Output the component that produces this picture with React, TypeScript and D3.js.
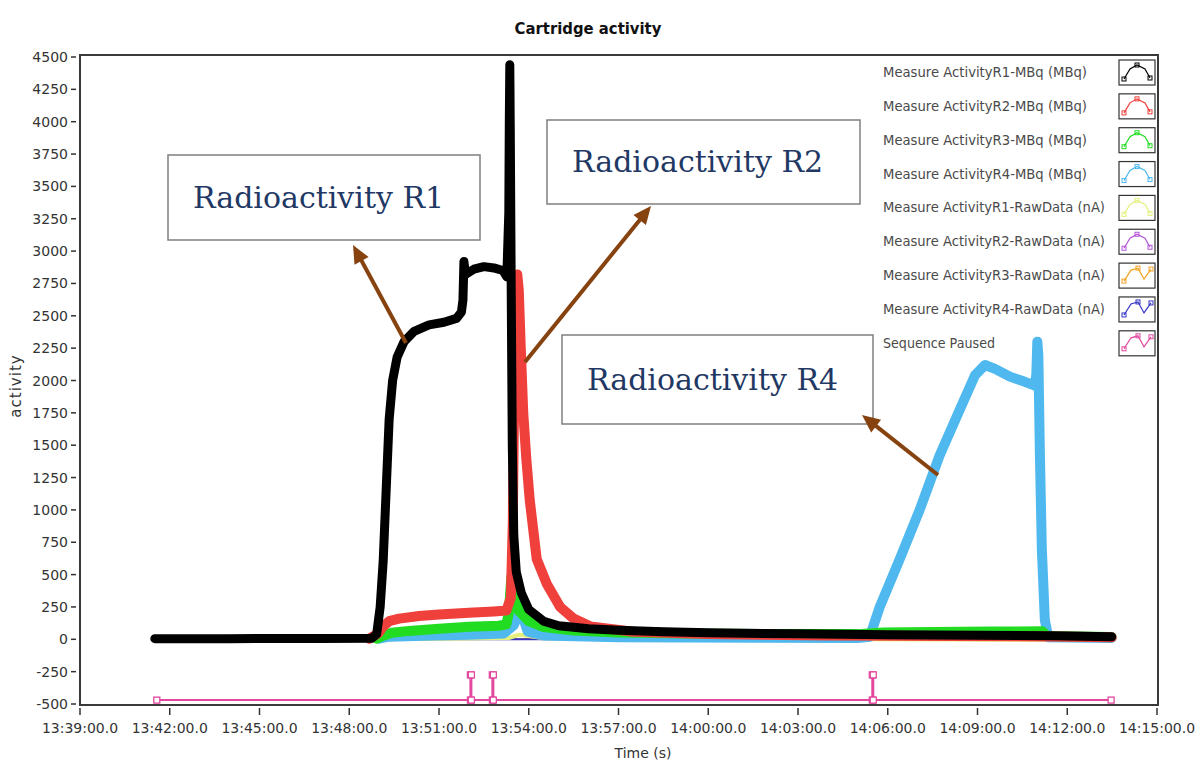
import React, { useEffect, useRef } from 'react';
import * as d3 from 'd3';

// chart texts
const chartTitle = 'Cartridge activity';
const xAxisTitle = 'Time (s)';
const yAxisTitle = 'activity';
const xTickLabels = ['13:39:00', '13:42:00', '13:45:00', '13:48:00', '13:51:00', '13:54:00', '13:57:00',
  '14:00:00', '14:03:00', '14:06:00', '14:09:00', '14:12:00', '14:15:00'];
const yTickValues = [-500, -250, 0, 250, 500, 750, 1000, 1250, 1500, 1750, 2000, 2250, 2500, 2750, 3000,
  3250, 3500, 3750, 4000, 4250, 4500];

// series: [time, value]
const r1Mbq: [string, number][] = [
  ['13:41:30', 5], ['13:44:00', 5], ['13:47:00', 6], ['13:48:45', 8], ['13:48:55', 40], ['13:49:02', 250],
  ['13:49:08', 600], ['13:49:14', 1150], ['13:49:20', 1700], ['13:49:27', 2000], ['13:49:36', 2180],
  ['13:49:50', 2300], ['13:50:10', 2380], ['13:50:40', 2430], ['13:51:10', 2450], ['13:51:35', 2480],
  ['13:51:45', 2530], ['13:51:48', 2620], ['13:51:50', 2920], ['13:51:53', 2820], ['13:52:10', 2860],
  ['13:52:30', 2880], ['13:52:50', 2870], ['13:53:08', 2850], ['13:53:16', 2800], ['13:53:20', 3300],
  ['13:53:21', 4000], ['13:53:22', 4440], ['13:53:23', 3900], ['13:53:25', 2600], ['13:53:27', 1500],
  ['13:53:30', 800], ['13:53:35', 520], ['13:53:45', 360], ['13:54:00', 230], ['13:54:30', 140],
  ['13:55:00', 105], ['13:56:00', 82], ['13:57:00', 70], ['13:58:30', 58], ['14:00:00', 50],
  ['14:03:00', 42], ['14:06:00', 36], ['14:09:00', 32], ['14:11:30', 28], ['14:13:29', 20],
];
const r2Mbq: [string, number][] = [
  ['13:48:40', 5], ['13:48:58', 45], ['13:49:08', 100], ['13:49:20', 140],
  ['13:49:40', 160], ['13:50:20', 180], ['13:51:00', 192], ['13:52:00', 205], ['13:52:50', 215],
  ['13:53:15', 222], ['13:53:24', 320], ['13:53:28', 900], ['13:53:31', 2000], ['13:53:34', 2750],
  ['13:53:37', 2820], ['13:53:40', 2700], ['13:53:44', 2250], ['13:53:49', 1750], ['13:53:55', 1400],
  ['13:54:02', 1075], ['13:54:16', 620], ['13:54:36', 430], ['13:55:03', 250], ['13:55:30', 160],
  ['13:56:03', 100], ['13:57:30', 58], ['14:00:00', 40], ['14:04:00', 30], ['14:08:00', 26],
  ['14:11:20', 22], ['14:13:29', 15],
];
const r3Mbq: [string, number][] = [
  ['13:48:55', 5], ['13:49:10', 30], ['13:49:25', 50], ['13:50:00', 65], ['13:51:00', 82], ['13:52:00', 97],
  ['13:53:00', 105], ['13:53:15', 115], ['13:53:20', 200], ['13:53:25', 480], ['13:53:28', 515],
  ['13:53:32', 360], ['13:53:40', 220], ['13:54:00', 140], ['13:54:30', 95], ['13:55:30', 68],
  ['13:57:00', 52], ['14:00:00', 42], ['14:05:00', 40], ['14:05:50', 52], ['14:07:30', 56],
  ['14:09:30', 60], ['14:11:10', 62], ['14:11:20', 25], ['14:13:29', 18],
];
const r4Mbq: [string, number][] = [
  ['13:49:00', 5], ['13:49:20', 20], ['13:50:30', 28], ['13:52:00', 35], ['13:53:10', 45], ['13:53:30', 110],
  ['13:53:45', 240], ['13:53:50', 150], ['13:53:58', 60], ['13:54:30', 30], ['13:57:00', 15],
  ['14:05:00', 10], ['14:05:24', 20], ['14:05:44', 250], ['14:06:24', 620], ['14:07:04', 1000],
  ['14:07:44', 1420], ['14:08:25', 1780], ['14:08:55', 2040], ['14:09:15', 2120], ['14:09:35', 2090],
  ['14:10:05', 2030], ['14:10:35', 1990], ['14:10:55', 1960], ['14:10:58', 2050], ['14:11:00', 2300],
  ['14:11:02', 2200], ['14:11:05', 1460], ['14:11:09', 700], ['14:11:15', 150], ['14:11:22', 15],
  ['14:13:29', 10],
];
const r1Raw: [string, number][] = [
  ['13:49:00', 0], ['13:51:00', 5], ['13:53:20', 10], ['13:53:40', 35], ['13:54:00', 25], ['13:54:30', 8],
  ['14:13:29', -5],
];
const r2Raw: [string, number][] = [['13:41:30', 0], ['13:53:30', 3], ['14:13:29', 0]];
const r3Raw: [string, number][] = [['13:41:30', 0], ['13:53:30', 2], ['14:13:29', 0]];
const r4Raw: [string, number][] = [['13:41:30', 0], ['14:09:00', 2], ['14:13:29', 0]];
const seqPaused: [string, number][] = [
  ['13:41:34', -470], ['13:52:03', -470], ['13:52:03', -275], ['13:52:05', -275], ['13:52:05', -470],
  ['13:52:47', -470], ['13:52:47', -275], ['13:52:49', -275], ['13:52:49', -470], ['14:05:29', -470],
  ['14:05:29', -275], ['14:05:31', -275], ['14:05:31', -470], ['14:13:28', -470],
];

const legendNames = [
  'Measure ActivityR1-MBq (MBq)', 'Measure ActivityR2-MBq (MBq)', 'Measure ActivityR3-MBq (MBq)',
  'Measure ActivityR4-MBq (MBq)', 'Measure ActivityR1-RawData (nA)', 'Measure ActivityR2-RawData (nA)',
  'Measure ActivityR3-RawData (nA)', 'Measure ActivityR4-RawData (nA)', 'Sequence Paused',
];
const legendWidths = [204, 204, 204, 204, 222, 222, 222, 222, 112];
const seriesColors = ['#000000', '#f0403c', '#22dc22', '#4fb8ee', '#e4f07c', '#b455d8', '#f0a424', '#3636c4', '#e2489e'];
const seriesData = [r1Mbq, r2Mbq, r3Mbq, r4Mbq, r1Raw, r2Raw, r3Raw, r4Raw, seqPaused];
const strokeWidths = [9, 10, 10, 10, 4, 2, 2, 2, 2];
const drawOrder = [5, 6, 7, 4, 3, 2, 1, 0];

// call-out boxes and arrows
const callouts = [
  { label: 'Radioactivity R1', box: [168, 155, 312, 85], tail: [406, 343], head: [353, 245] },
  { label: 'Radioactivity R2', box: [547, 120, 313, 84], tail: [525, 362], head: [651, 206] },
  { label: 'Radioactivity R4', box: [562, 335, 311, 89], tail: [938, 475], head: [862, 415] },
];

const W = 1196;
const H = 763;
const margin = { top: 55, left: 80, right: 38, bottom: 58 };

export default function App() {
  const ref = useRef<SVGSVGElement>(null);

  useEffect(() => {
    const svg = d3.select(ref.current);
    svg.selectAll('*').remove();
    const parse = d3.timeParse('%H:%M:%S');
    const fmt = d3.timeFormat('%H:%M:%S.0');
    const font = 'DejaVu Sans, Verdana, sans-serif';

    const x = d3.scaleTime()
      .domain([parse(xTickLabels[0])!, parse(xTickLabels[xTickLabels.length - 1])!])
      .range([margin.left, W - margin.right - 1]);
    const y = d3.scaleLinear().domain([-500, 4500]).range([704, 57]);

    svg.append('rect').attr('width', W).attr('height', H).attr('fill', '#fff');

    // title
    svg.append('text').attr('x', 588).attr('y', 34).attr('text-anchor', 'middle')
      .attr('font-family', 'DejaVu Sans Condensed, DejaVu Sans, sans-serif').attr('font-stretch', 'condensed')
      .attr('font-weight', 'bold').attr('font-size', 16.5).attr('fill', '#111').text(chartTitle);

    // y ticks
    const yt = svg.append('g');
    yt.selectAll('line').data(yTickValues).join('line')
      .attr('x1', 71).attr('x2', 76).attr('y1', d => y(d)).attr('y2', d => y(d))
      .attr('stroke', '#333').attr('stroke-width', 1.5);
    yt.selectAll('text').data(yTickValues).join('text')
      .attr('x', 68).attr('y', d => y(d) + 5).attr('text-anchor', 'end')
      .attr('font-family', font).attr('font-size', 14).attr('fill', '#333').text(d => d);

    // x ticks
    const xTicks = xTickLabels.map(s => parse(s)!);
    const xt = svg.append('g');
    xt.selectAll('line').data(xTicks).join('line')
      .attr('x1', d => x(d)).attr('x2', d => x(d)).attr('y1', 708).attr('y2', 715)
      .attr('stroke', '#333').attr('stroke-width', 1.5);
    xt.selectAll('text').data(xTicks).join('text')
      .attr('x', d => x(d)).attr('y', 733).attr('text-anchor', 'middle')
      .attr('font-family', font).attr('font-size', 14).attr('fill', '#333').text(d => fmt(d));

    svg.append('text').attr('x', 643).attr('y', 758).attr('text-anchor', 'middle')
      .attr('font-family', font).attr('font-size', 14).attr('fill', '#333').text(xAxisTitle);
    svg.append('text').attr('transform', 'translate(21, 386) rotate(-90)').attr('text-anchor', 'middle')
      .attr('font-family', font).attr('font-size', 15).attr('letter-spacing', 1).attr('fill', '#333').text(yAxisTitle);

    // series
    const plot = svg.append('g');
    const line = d3.line<[string, number]>().x(d => x(parse(d[0])!)).y(d => y(d[1]));
    drawOrder.forEach(i => {
      plot.append('path').datum(seriesData[i]).attr('d', line)
        .attr('fill', 'none').attr('stroke', seriesColors[i]).attr('stroke-width', strokeWidths[i])
        .attr('stroke-linejoin', 'round').attr('stroke-linecap', 'round');
    });
    // sequence paused
    plot.append('path').datum(seqPaused).attr('d', line)
      .attr('fill', 'none').attr('stroke', seriesColors[8]).attr('stroke-width', 2);
    plot.append('g').selectAll('rect').data(seqPaused).join('rect')
      .attr('x', d => x(parse(d[0])!) - 3).attr('y', d => y(d[1]) - 3)
      .attr('width', 6).attr('height', 6).attr('fill', '#fff')
      .attr('stroke', seriesColors[8]).attr('stroke-width', 1.3);

    // frame
    svg.append('rect').attr('x', margin.left).attr('y', margin.top)
      .attr('width', W - margin.left - margin.right).attr('height', 705 - margin.top)
      .attr('fill', 'none').attr('stroke', '#3a3a3a').attr('stroke-width', 2);

    // legend
    const lg = svg.append('g');
    legendNames.forEach((name, i) => {
      const cy = 72 + i * 33.85;
      lg.append('text').attr('x', 883).attr('y', cy + 5)
        .attr('font-family', font).attr('font-size', 14).attr('fill', '#4a4a4a')
        .attr('textLength', legendWidths[i]).attr('lengthAdjust', 'spacingAndGlyphs').text(name);
      const sw = lg.append('g').attr('transform', `translate(1119, ${cy - 12})`);
      sw.append('rect').attr('width', 36).attr('height', 25).attr('fill', '#fff')
        .attr('stroke', '#333').attr('stroke-width', 1.2);
      const pts: [number, number][] = i >= 6
        ? [[5, 18], [12, 7], [19, 5], [25, 16], [32, 6]]
        : [[5, 19], [11, 9], [18, 5], [26, 9], [31, 18]];
      sw.append('path').attr('d', d3.line()(pts)).attr('fill', 'none')
        .attr('stroke', seriesColors[i]).attr('stroke-width', 1.2);
      sw.selectAll('rect.m').data([pts[0], pts[2], pts[4]]).join('rect').attr('class', 'm')
        .attr('x', d => d[0] - 2).attr('y', d => d[1] - 2).attr('width', 4).attr('height', 4)
        .attr('fill', 'none').attr('stroke', seriesColors[i]).attr('stroke-width', 1);
    });

    // call-outs
    const co = svg.append('g');
    callouts.forEach(c => {
      const [bx, by, bw, bh] = c.box;
      co.append('rect').attr('x', bx).attr('y', by).attr('width', bw).attr('height', bh)
        .attr('fill', '#fff').attr('stroke', '#7f7f7f').attr('stroke-width', 1.5);
      co.append('text').attr('x', bx + 25).attr('y', by + bh / 2 + 10)
        .attr('font-family', 'DejaVu Serif, Liberation Serif, serif').attr('font-size', 30)
        .attr('fill', '#1f3864').text(c.label);
      const [x1, y1] = c.tail;
      const [x2, y2] = c.head;
      const len = Math.hypot(x2 - x1, y2 - y1);
      const ux = (x2 - x1) / len;
      const uy = (y2 - y1) / len;
      const bxh = x2 - ux * 18;
      const byh = y2 - uy * 18;
      co.append('line').attr('x1', x1).attr('y1', y1).attr('x2', bxh + ux * 2).attr('y2', byh + uy * 2)
        .attr('stroke', '#87430f').attr('stroke-width', 4);
      co.append('polygon')
        .attr('points', [[x2, y2], [bxh - uy * 8, byh + ux * 8], [bxh + uy * 8, byh - ux * 8]].map(p => p.join(',')).join(' '))
        .attr('fill', '#87430f');
    });
  }, []);

  return (
    <div style={{ position: 'absolute', left: 0, top: 0 }}>
      <svg ref={ref} width={W} height={H}></svg>
    </div>
  );
}
